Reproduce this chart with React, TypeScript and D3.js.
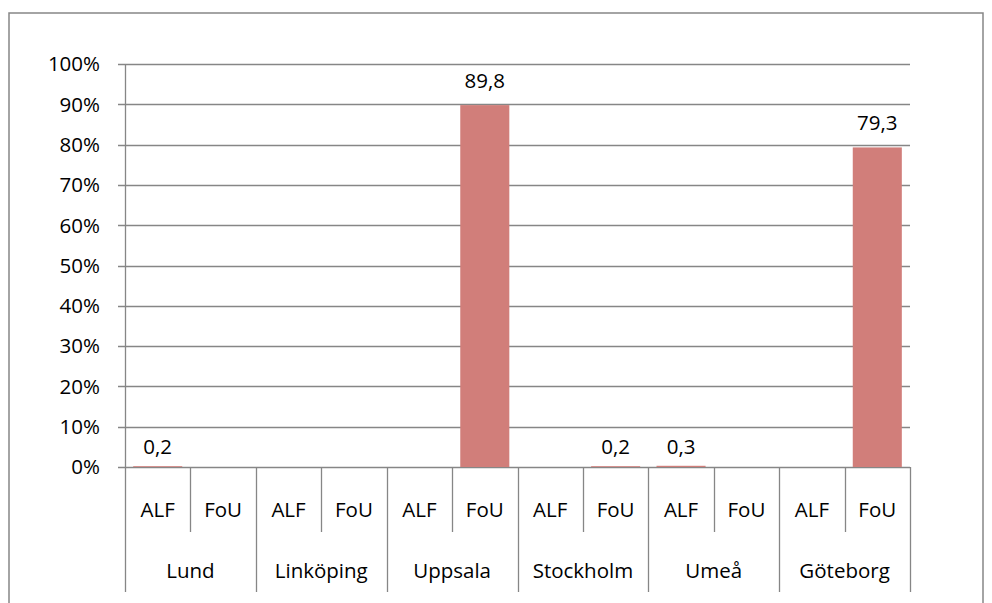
import React, { useEffect, useRef } from 'react';
import * as d3 from 'd3';

const groups = ['Lund', 'Linköping', 'Uppsala', 'Stockholm', 'Umeå', 'Göteborg'];
const subs = ['ALF', 'FoU'];
// percent per group: [ALF, FoU], null = no value
const alfValues = [0.2, null, null, null, 0.3, null];
const fouValues = [null, null, 89.8, 0.2, null, 79.3];
const yTicks = [0, 10, 20, 30, 40, 50, 60, 70, 80, 90, 100];

const App = () => {
    const svgRef = useRef(null);

    useEffect(() => {
        document.body.style.margin = '0';
        const width = 992;
        const height = 603;
        const margin = { top: 64, right: 82, bottom: 136, left: 125 };
        const font = '"Open Sans", sans-serif';
        const fontSize = '20.5px';
        const grid = '#868686';

        const svg = d3.select(svgRef.current);
        svg.selectAll('*').remove();
        svg.attr('width', width).attr('height', height);

        // outer frame
        svg.append('rect')
            .attr('x', 9).attr('y', 13)
            .attr('width', 974).attr('height', 620)
            .attr('fill', 'white')
            .attr('stroke', grid)
            .attr('stroke-width', 1.5);

        const cols = groups.flatMap((g, gi) => subs.map((s, si) => ({
            key: `${g}-${s}`,
            group: g,
            sub: s,
            value: si === 0 ? alfValues[gi] : fouValues[gi],
        })));

        const x = d3.scaleBand()
            .domain(cols.map((d) => d.key))
            .range([margin.left, width - margin.right])
            .paddingInner(0.25)
            .paddingOuter(0.125);
        const step = x.step();
        const x0 = margin.left;

        const y = d3.scaleLinear()
            .domain([0, 100])
            .range([height - margin.bottom, margin.top]);

        // gridlines + ticks
        svg.append('g')
            .selectAll('line')
            .data(yTicks)
            .enter()
            .append('line')
            .attr('x1', margin.left - 7)
            .attr('x2', width - margin.right)
            .attr('y1', (d) => Math.round(y(d)) + 0.5)
            .attr('y2', (d) => Math.round(y(d)) + 0.5)
            .attr('stroke', grid)
            .attr('stroke-width', 1.3);

        svg.append('g')
            .selectAll('text')
            .data(yTicks)
            .enter()
            .append('text')
            .attr('x', 100)
            .attr('y', (d) => y(d))
            .attr('dy', '0.36em')
            .attr('text-anchor', 'end')
            .style('font-family', font)
            .style('font-size', fontSize)
            .attr('fill', '#000')
            .text((d) => `${d}%`);

        // bars
        const shown = cols.filter((d) => d.value != null);
        svg.append('g')
            .selectAll('rect')
            .data(shown)
            .enter()
            .append('rect')
            .attr('x', (d) => x(d.key))
            .attr('width', x.bandwidth())
            .attr('y', (d) => y(d.value))
            .attr('height', (d) => y(0) - y(d.value))
            .attr('fill', '#d17e7a');

        svg.append('g')
            .selectAll('text')
            .data(shown)
            .enter()
            .append('text')
            .attr('x', (d) => x(d.key) + x.bandwidth() / 2)
            .attr('y', (d) => y(d.value) - (d.value > 10 ? 17 : 12))
            .attr('text-anchor', 'middle')
            .style('font-family', font)
            .style('font-size', fontSize)
            .attr('fill', '#000')
            .text((d) => String(d.value).replace('.', ','));

        // y axis line, extended through category rows
        svg.append('line')
            .attr('x1', x0 + 0.5).attr('x2', x0 + 0.5)
            .attr('y1', margin.top).attr('y2', 592)
            .attr('stroke', grid).attr('stroke-width', 1.3);

        // category separators
        const seps = d3.range(1, cols.length + 1);
        svg.append('g')
            .selectAll('line')
            .data(seps)
            .enter()
            .append('line')
            .attr('x1', (i) => Math.round(x0 + i * step) + 0.5)
            .attr('x2', (i) => Math.round(x0 + i * step) + 0.5)
            .attr('y1', y(0))
            .attr('y2', (i) => (i % 2 === 0 ? 592 : 532))
            .attr('stroke', grid)
            .attr('stroke-width', 1.3);

        svg.append('g')
            .selectAll('text')
            .data(cols)
            .enter()
            .append('text')
            .attr('x', (d) => x(d.key) + x.bandwidth() / 2)
            .attr('y', 517)
            .attr('text-anchor', 'middle')
            .style('font-family', font)
            .style('font-size', fontSize)
            .text((d) => d.sub);

        svg.append('g')
            .selectAll('text')
            .data(groups)
            .enter()
            .append('text')
            .attr('x', (d, i) => x0 + (i * 2 + 1) * step)
            .attr('y', 578)
            .attr('text-anchor', 'middle')
            .style('font-family', font)
            .style('font-size', fontSize)
            .text((d) => d);
    }, []);

    return (
        <svg ref={svgRef} style={{ display: 'block' }} />
    );
};

export default App;
